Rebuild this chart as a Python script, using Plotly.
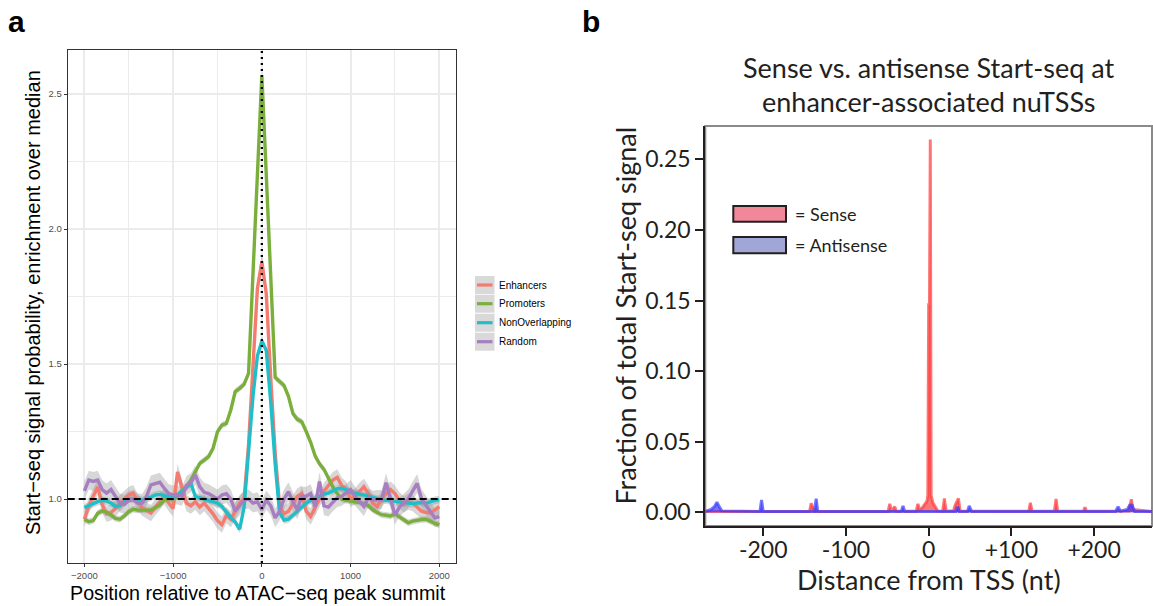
import plotly.graph_objects as go

W, H = 1153, 606

# ---------------- Panel a data ----------------
positions = list(range(-2000, 2001, 50))
enhancers = [0.925, 0.975, 1.01, 1.045, 0.98, 0.945, 0.95, 0.965, 0.985, 1.0,
             1.015, 1.022, 0.99, 0.968, 0.958, 0.948, 0.97, 0.99, 1.01, 0.985,
             0.965, 1.10, 1.045, 0.985, 0.975, 0.99, 0.97, 0.985, 0.965, 0.945,
             0.92, 0.905, 0.94, 0.925, 0.955, 0.985, 1.0, 1.2, 1.49, 1.78,
             1.88, 1.76, 1.45, 1.17, 0.975, 0.945, 0.955, 0.985, 1.01, 1.02,
             0.955, 0.935, 0.97, 1.0, 1.03, 1.05, 1.07, 1.08, 1.05, 1.035,
             1.0, 1.01, 1.03, 1.045, 1.02, 0.985, 0.972, 1.0, 1.02, 1.035,
             1.02, 0.995, 0.98, 0.99, 0.985, 0.97, 0.955, 0.95, 0.948, 0.96,
             0.972]
promoters = [0.925, 0.916, 0.92, 0.947, 0.956, 0.951, 0.941, 0.928, 0.925, 0.937,
             0.953, 0.962, 0.959, 0.959, 0.957, 0.959, 0.968, 0.978, 0.996, 1.002,
             1.0, 1.009, 1.027, 1.046, 1.07, 1.098, 1.132, 1.144, 1.157, 1.188,
             1.249, 1.274, 1.28, 1.33, 1.398, 1.41, 1.425, 1.465, 1.84, 2.21,
             2.57, 2.2, 1.82, 1.45, 1.435, 1.42, 1.38, 1.317, 1.295, 1.286,
             1.25, 1.21, 1.16, 1.13, 1.11, 1.075, 1.045, 1.02, 1.0, 0.995,
             0.993, 0.99, 0.988, 0.984, 0.975, 0.96, 0.95, 0.942, 0.94, 0.937,
             0.945, 0.935, 0.922, 0.912, 0.918, 0.922, 0.924, 0.925, 0.916, 0.91,
             0.904]
nonoverlapping = [0.968, 0.975, 0.985, 0.99, 0.995, 0.992, 0.985, 0.972, 0.975, 0.99,
                  1.0, 1.0, 0.998, 0.995, 1.0, 1.007, 1.015, 1.018, 1.012, 1.008,
                  1.004, 1.015, 1.03, 1.042, 1.058, 1.01, 1.005, 1.0, 0.998, 0.99,
                  0.985, 0.972, 0.95, 0.932, 0.915, 0.888, 0.97, 1.17, 1.38, 1.53,
                  1.585, 1.55, 1.36, 1.13, 0.95, 0.922, 0.925, 0.94, 0.955, 0.97,
                  0.985, 0.995, 1.002, 1.012, 1.018, 1.022, 1.03, 1.038, 1.04, 1.035,
                  1.025, 1.02, 1.018, 1.015, 1.01, 1.005, 1.0, 0.998, 0.995, 0.993,
                  0.99, 0.988, 0.985, 0.984, 0.983, 0.985, 0.987, 0.984, 0.99, 0.995,
                  0.998]
random_ctrl = [1.03, 1.07, 1.065, 1.07, 1.035, 1.022, 1.035, 1.01, 0.985, 0.98,
               0.995, 0.998, 0.985, 0.984, 1.01, 1.052, 1.058, 1.062, 1.04, 1.02,
               1.015, 1.015, 1.01, 1.05, 1.06, 1.089, 1.046, 1.025, 1.02, 1.01,
               1.0, 1.015, 1.02, 1.0, 0.955, 0.975, 0.996, 1.0, 0.985, 0.99,
               0.96, 0.996, 0.975, 0.93, 0.955, 1.0, 1.027, 0.99, 0.96, 1.01,
               1.01, 1.02, 0.972, 1.065, 0.975, 0.97, 0.99, 1.005, 1.01, 1.021,
               1.035, 1.01, 0.99, 0.972, 1.005, 0.996, 0.998, 0.998, 1.06, 1.0,
               0.94, 0.97, 0.985, 1.0, 1.03, 1.058, 1.0, 0.975, 0.954, 0.93,
               0.935]
series_names = ["Enhancers", "Promoters", "NonOverlapping", "Random"]
series_values = [enhancers, promoters, nonoverlapping, random_ctrl]
series_colors = ["#F47B70", "#7AAF3C", "#1FBEC8", "#A67EC1"]
series_se = [0.03, 0.012, 0.014, 0.035]

a_xticks = [-2000, -1000, 0, 1000, 2000]
a_xticktext = ["\u22122000", "\u22121000", "0", "1000", "2000"]
a_yticks = [1.0, 1.5, 2.0, 2.5]

# ---------------- Panel b data ----------------
sense_pos = [-270, -144, -142, -140, -138, -49, -47, -45, -41, -39, -15, -13, -11, -8, -5, -2, -1,
             0, 1, 2, 3, 5, 8, 11, 17, 19, 21, 30, 32, 34, 36, 38, 121, 123, 125, 152, 154, 156,
             187, 189, 191, 242, 245, 247, 270]
sense_frac = [0.0006, 0.0006, 0.0064, 0.004, 0.0006, 0.0006, 0.006, 0.0008, 0.004, 0.0007, 0.0008,
              0.006, 0.002, 0.003, 0.006, 0.008, 0.012,
              0.147, 0.147, 0.264, 0.012, 0.007, 0.004, 0.001, 0.0008, 0.0098, 0.001, 0.001, 0.005,
              0.007, 0.0099, 0.001, 0.0007, 0.0068, 0.0007, 0.0007, 0.0095, 0.0007,
              0.0007, 0.0035, 0.0007, 0.001, 0.0092, 0.002, 0.0006]
antisense_pos = [-270, -263, -259, -256, -253, -250, -204, -202, -200, -138, -136, -134, -33, -31, -29,
                 33, 35, 37, 47, 49, 52, 226, 229, 232, 240, 243, 246, 249, 270]
antisense_frac = [0.0005, 0.002, 0.004, 0.0071, 0.004, 0.001, 0.0005, 0.0088, 0.0005, 0.0006, 0.0097,
                  0.0006, 0.0006, 0.0045, 0.0006, 0.0006, 0.004, 0.0006, 0.0006, 0.0045, 0.0006,
                  0.0006, 0.004, 0.0008, 0.002, 0.005, 0.005, 0.0006, 0.0005]
b_xticks = [-200, -100, 0, 100, 200]
b_xticktext = ["-200", "-100", "0", "+100", "+200"]
b_yticks = [0.0, 0.05, 0.10, 0.15, 0.20, 0.25]


def px(x):
    return x / W


def py(y):
    return 1 - y / H


AFONT = "Liberation Sans, Arial, Helvetica, sans-serif"
BFONT = "Lato, Noto Sans, sans-serif"

fig = go.Figure()

# ribbons
for name, vals, se in zip(series_names, series_values, series_se):
    fig.add_trace(go.Scatter(x=positions, y=[v + se for v in vals], mode="lines",
                             line=dict(width=0), showlegend=False, hoverinfo="skip",
                             xaxis="x", yaxis="y"))
    fig.add_trace(go.Scatter(x=positions, y=[v - se for v in vals], mode="lines",
                             line=dict(width=0), fill="tonexty",
                             fillcolor="rgba(150,150,150,0.38)", showlegend=False,
                             hoverinfo="skip", xaxis="x", yaxis="y"))
# lines
for name, vals, col in zip(series_names, series_values, series_colors):
    fig.add_trace(go.Scatter(x=positions, y=vals, mode="lines", name=name,
                             line=dict(color=col, width=3.4), showlegend=False,
                             xaxis="x", yaxis="y"))

# panel b traces
fig.add_trace(go.Scatter(x=sense_pos, y=sense_frac, mode="lines", name="Sense",
                         line=dict(color="rgba(255,60,60,0.7)", width=3),
                         fill="tozeroy", fillcolor="rgba(255,60,60,0.7)",
                         showlegend=False, xaxis="x2", yaxis="y2"))
fig.add_trace(go.Scatter(x=antisense_pos, y=antisense_frac, mode="lines", name="Antisense",
                         line=dict(color="rgba(60,60,255,0.7)", width=3),
                         fill="tozeroy", fillcolor="rgba(60,60,255,0.7)",
                         showlegend=False, xaxis="x2", yaxis="y2"))

shapes = []
# panel a reference lines
shapes.append(dict(type="line", xref="x domain", x0=0, x1=1, yref="y", y0=1.0, y1=1.0,
                   line=dict(color="black", width=2, dash="7px,4px"), layer="above"))
shapes.append(dict(type="line", xref="x", x0=0, x1=0, yref="y domain", y0=0, y1=1,
                   line=dict(color="black", width=2.3, dash="2px,4px"), layer="above"))
# panel b top/right frame
shapes.append(dict(type="rect", xref="x2 domain", x0=0, x1=1, yref="y2 domain", y0=0, y1=1,
                   line=dict(color="#8a8a8a", width=2), layer="below"))

annotations = []
# panel a legend (keys + labels)
leg_rows = [285, 303.7, 322.7, 341.7]
for yc, name, col in zip(leg_rows, series_names, series_colors):
    shapes.append(dict(type="rect", xref="paper", yref="paper", x0=px(475), x1=px(494.5),
                       y0=py(yc + 9.0), y1=py(yc - 9.0), fillcolor="#d9d9d9",
                       line=dict(width=0), layer="above"))
    shapes.append(dict(type="line", xref="paper", yref="paper", x0=px(477), x1=px(492.5),
                       y0=py(yc), y1=py(yc), line=dict(color=col, width=3.2), layer="above"))
    annotations.append(dict(text=name, x=px(497), y=py(yc), xref="paper", yref="paper",
                            xanchor="left", yanchor="middle", showarrow=False,
                            font=dict(family=AFONT, size=10, color="black")))

# panel b legend
for (y0, y1), col, label, yc in [((206, 221.7), "#F0889A", "= Sense", 213.5),
                                 ((237, 253.3), "#A0A6D6", "= Antisense", 245)]:
    shapes.append(dict(type="rect", xref="paper", yref="paper", x0=px(733.3), x1=px(786),
                       y0=py(y1), y1=py(y0), fillcolor=col, line=dict(color="#231f20", width=2),
                       layer="above"))
    annotations.append(dict(text=label, x=px(793), y=py(yc), xref="paper", yref="paper",
                            xanchor="left", yanchor="middle", showarrow=False,
                            font=dict(family=BFONT, size=18, color="#231f20")))

# panel labels
annotations.append(dict(text="<b>a</b>", x=px(16.5), y=py(21.9), xref="paper", yref="paper",
                        xanchor="center", yanchor="middle", showarrow=False,
                        font=dict(family=AFONT, size=30, color="black")))
annotations.append(dict(text="<b>b</b>", x=px(591), y=py(21.9), xref="paper", yref="paper",
                        xanchor="center", yanchor="middle", showarrow=False,
                        font=dict(family=AFONT, size=30, color="black")))
# panel a axis titles
annotations.append(dict(text="Position relative to ATAC\u2212seq peak summit", x=px(258),
                        y=py(592.5), xref="paper", yref="paper", xanchor="center",
                        yanchor="middle", showarrow=False,
                        font=dict(family=AFONT, size=19.7, color="black")))
annotations.append(dict(text="Start\u2212seq signal probability, enrichment over median",
                        x=px(32.6), y=py(302.5), xref="paper", yref="paper", xanchor="center",
                        yanchor="middle", textangle=-90, showarrow=False,
                        font=dict(family=AFONT, size=20, color="black")))
# panel b title and axis titles
annotations.append(dict(text="Sense vs. antisense Start-seq at", x=px(928.7), y=py(67.6),
                        xref="paper", yref="paper", xanchor="center", yanchor="middle",
                        showarrow=False, font=dict(family=BFONT, size=27, color="#231f20")))
annotations.append(dict(text="enhancer-associated nuTSSs", x=px(928.7), y=py(101.6),
                        xref="paper", yref="paper", xanchor="center", yanchor="middle",
                        showarrow=False, font=dict(family=BFONT, size=27, color="#231f20")))
annotations.append(dict(text="Distance from TSS (nt)", x=px(928.7), y=py(579),
                        xref="paper", yref="paper", xanchor="center", yanchor="middle",
                        showarrow=False, font=dict(family=BFONT, size=27, color="#231f20")))
annotations.append(dict(text="Fraction of total Start-seq signal", x=px(625), y=py(315.5),
                        xref="paper", yref="paper", xanchor="center", yanchor="middle",
                        textangle=-90, showarrow=False,
                        font=dict(family=BFONT, size=27, color="#231f20")))

fig.update_layout(
    width=W, height=H, autosize=False,
    margin=dict(l=0, r=0, t=0, b=0),
    paper_bgcolor="white", plot_bgcolor="white",
    font=dict(family=AFONT),
    xaxis=dict(domain=[px(67.7), px(456)], range=[-2188, 2188], tickvals=a_xticks,
               ticktext=a_xticktext, ticks="outside", ticklen=3, tickcolor="#333333",
               tickwidth=1, tickfont=dict(family=AFONT, size=9.5, color="#4d4d4d"),
               showgrid=True, gridcolor="#ebebeb", gridwidth=1.8, zeroline=False,
               minor=dict(tickvals=[-1500, -500, 500, 1500], showgrid=True,
                          gridcolor="#ebebeb", gridwidth=1.3),
               showline=True, mirror=True, linecolor="#333333", linewidth=1.2,
               anchor="y"),
    yaxis=dict(domain=[py(563), py(50)], range=[0.763, 2.663], tickvals=a_yticks,
               tickformat=".1f", ticks="outside", ticklen=3, tickcolor="#333333",
               tickwidth=1, tickfont=dict(family=AFONT, size=9.5, color="#4d4d4d"),
               showgrid=True, gridcolor="#ebebeb", gridwidth=1.8, zeroline=False,
               minor=dict(tickvals=[1.25, 1.75, 2.25], showgrid=True,
                          gridcolor="#ebebeb", gridwidth=1.3),
               showline=True, mirror=True, linecolor="#333333", linewidth=1.2,
               anchor="x"),
    xaxis2=dict(domain=[px(705.3), px(1152)], range=[-270, 270], tickvals=b_xticks,
                ticktext=b_xticktext, ticks="outside", ticklen=8, tickwidth=1.5,
                tickcolor="#231f20", tickfont=dict(family=BFONT, size=23, color="#231f20"),
                ticklabelstandoff=-6,
                showgrid=False, zeroline=False, showline=True, linecolor="#231f20",
                linewidth=2, anchor="y2"),
    yaxis2=dict(domain=[py(526), py(126)], range=[-0.0097, 0.2736], tickvals=b_yticks,
                tickformat=".2f", ticks="outside", ticklen=8, tickwidth=1.5,
                tickcolor="#231f20", tickfont=dict(family=BFONT, size=23, color="#231f20"),
                showgrid=False, zeroline=False, showline=True, linecolor="#231f20",
                linewidth=2, anchor="x2"),
    shapes=shapes,
    annotations=annotations,
    showlegend=False,
)

fig.write_html("out.html", config={"displayModeBar": False},
               post_script="document.body.style.margin='0';document.body.style.overflow='hidden';")
